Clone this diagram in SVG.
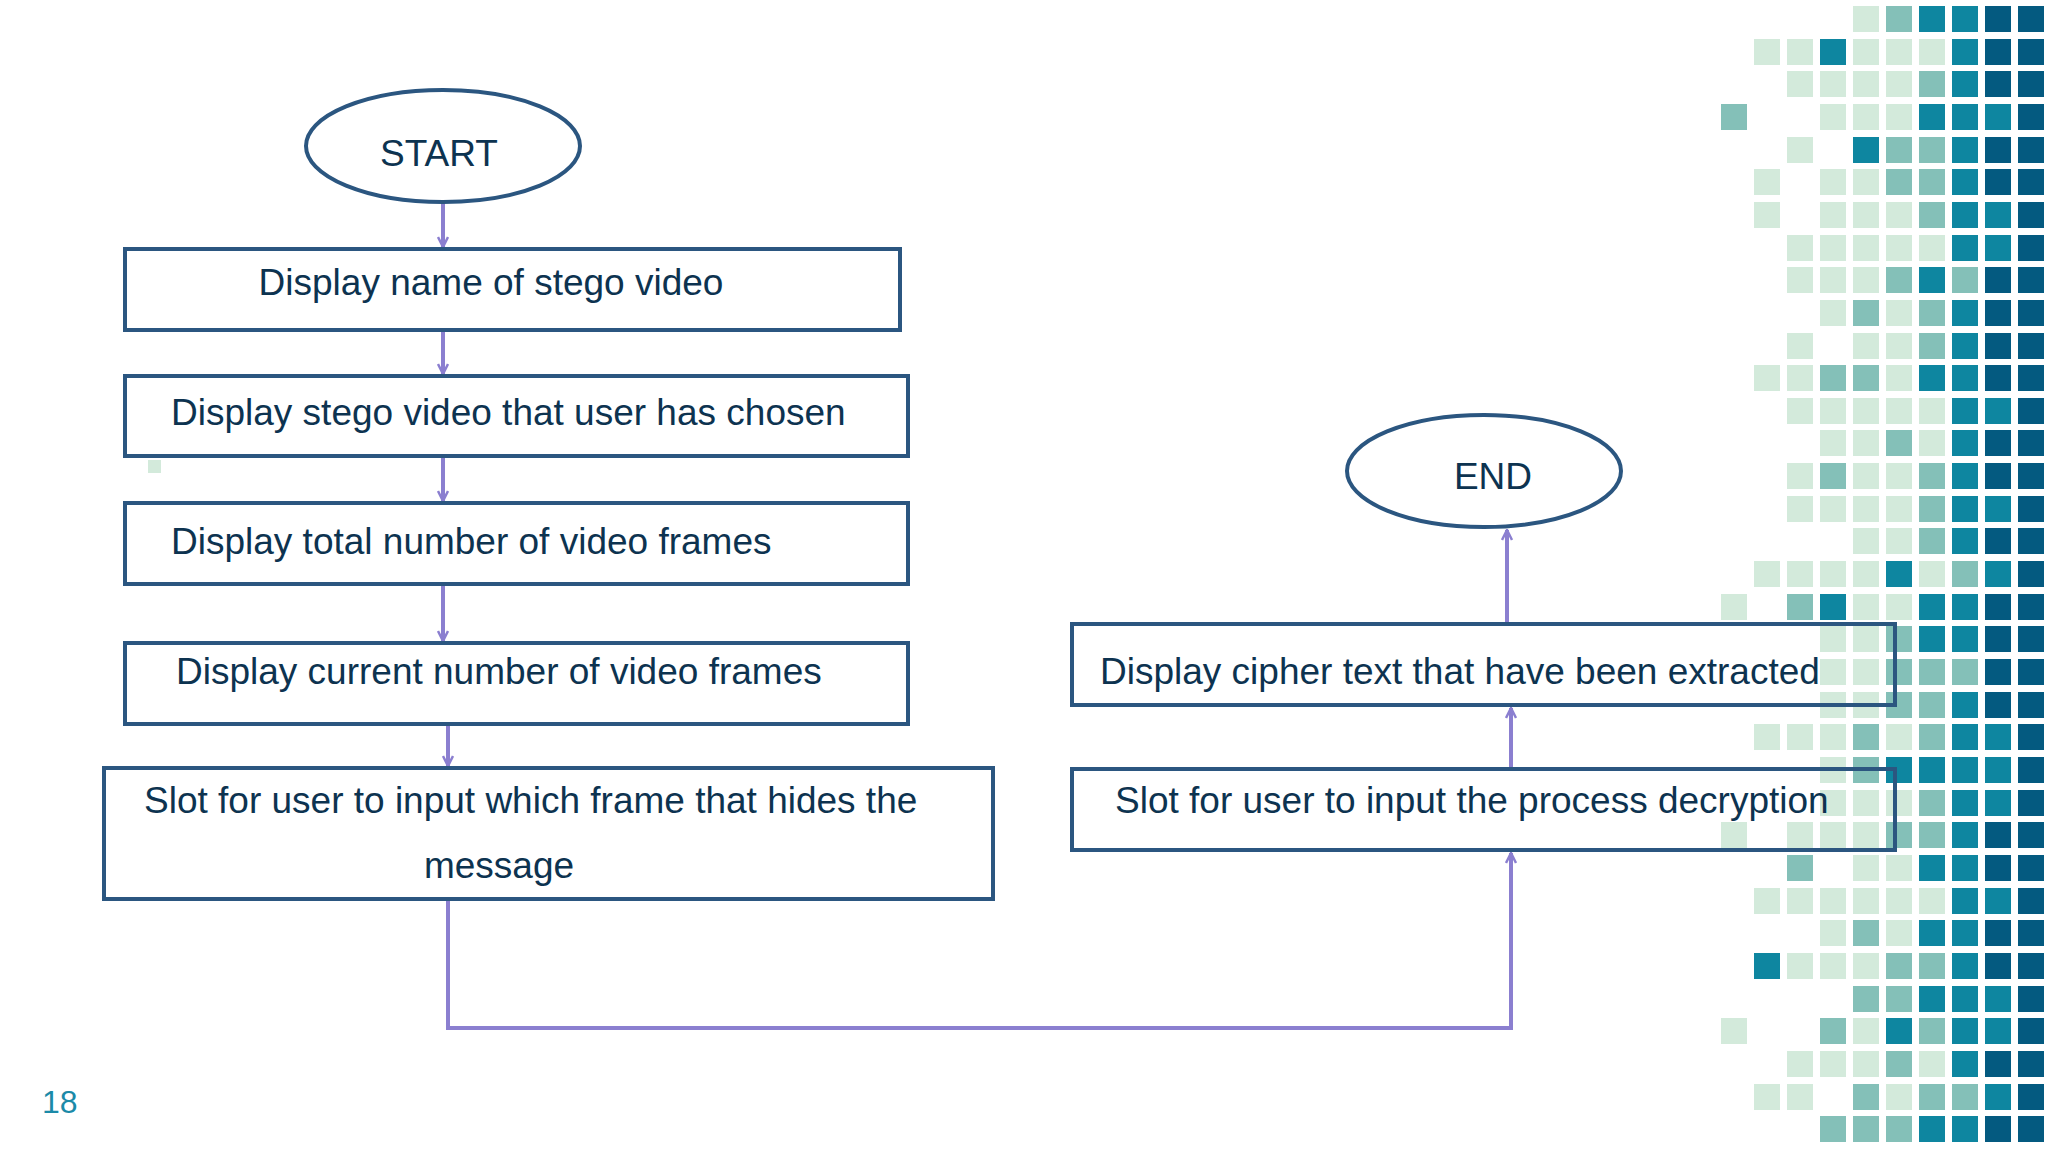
<svg xmlns="http://www.w3.org/2000/svg" width="2048" height="1152" viewBox="0 0 2048 1152">
<style>
.L{fill:#d3eadb}.M{fill:#84c0b8}.T{fill:#0e86a0}.D{fill:#045a80}
.box{fill:none;stroke:#2b5680;stroke-width:4}
.t{font-family:"Liberation Sans",Arial,sans-serif;font-size:37px;fill:#0d3350}
.c{stroke:#8b7fd0;stroke-width:4;fill:none}
</style>
<defs>
<marker id="a" viewBox="0 0 12 12" refX="11" refY="6" markerWidth="12" markerHeight="12" markerUnits="userSpaceOnUse" orient="auto"><polyline points="1,1 11,6 1,11" fill="none" stroke="#8b7fd0" stroke-width="2.5"/></marker>
</defs>
<rect width="2048" height="1152" fill="#fff"/>
<g id="grid">
<rect class="L" x="148" y="460" width="13" height="13"/>
<!-- rows generated: x=1721+33*c, y=6+32.65*r -->
<g transform="translate(1721,6)">
<!-- row0 ....LMTTDD -->
<rect class="L" x="132" y="0" width="26" height="26"/><rect class="M" x="165" y="0" width="26" height="26"/><rect class="T" x="198" y="0" width="26" height="26"/><rect class="T" x="231" y="0" width="26" height="26"/><rect class="D" x="264" y="0" width="26" height="26"/><rect class="D" x="297" y="0" width="26" height="26"/>
<!-- row1 .LLTLLLTDD -->
<rect class="L" x="33" y="33" width="26" height="26"/><rect class="L" x="66" y="33" width="26" height="26"/><rect class="T" x="99" y="33" width="26" height="26"/><rect class="L" x="132" y="33" width="26" height="26"/><rect class="L" x="165" y="33" width="26" height="26"/><rect class="L" x="198" y="33" width="26" height="26"/><rect class="T" x="231" y="33" width="26" height="26"/><rect class="D" x="264" y="33" width="26" height="26"/><rect class="D" x="297" y="33" width="26" height="26"/>
<!-- row2 ..LLLLMTDD -->
<rect class="L" x="66" y="65" width="26" height="26"/><rect class="L" x="99" y="65" width="26" height="26"/><rect class="L" x="132" y="65" width="26" height="26"/><rect class="L" x="165" y="65" width="26" height="26"/><rect class="M" x="198" y="65" width="26" height="26"/><rect class="T" x="231" y="65" width="26" height="26"/><rect class="D" x="264" y="65" width="26" height="26"/><rect class="D" x="297" y="65" width="26" height="26"/>
<!-- row3 M..LLLTTTD -->
<rect class="M" x="0" y="98" width="26" height="26"/><rect class="L" x="99" y="98" width="26" height="26"/><rect class="L" x="132" y="98" width="26" height="26"/><rect class="L" x="165" y="98" width="26" height="26"/><rect class="T" x="198" y="98" width="26" height="26"/><rect class="T" x="231" y="98" width="26" height="26"/><rect class="T" x="264" y="98" width="26" height="26"/><rect class="D" x="297" y="98" width="26" height="26"/>
<!-- row4 ..L.TMMTDD -->
<rect class="L" x="66" y="131" width="26" height="26"/><rect class="T" x="132" y="131" width="26" height="26"/><rect class="M" x="165" y="131" width="26" height="26"/><rect class="M" x="198" y="131" width="26" height="26"/><rect class="T" x="231" y="131" width="26" height="26"/><rect class="D" x="264" y="131" width="26" height="26"/><rect class="D" x="297" y="131" width="26" height="26"/>
<!-- row5 .L.LLMMTDD -->
<rect class="L" x="33" y="163" width="26" height="26"/><rect class="L" x="99" y="163" width="26" height="26"/><rect class="L" x="132" y="163" width="26" height="26"/><rect class="M" x="165" y="163" width="26" height="26"/><rect class="M" x="198" y="163" width="26" height="26"/><rect class="T" x="231" y="163" width="26" height="26"/><rect class="D" x="264" y="163" width="26" height="26"/><rect class="D" x="297" y="163" width="26" height="26"/>
<!-- row6 .L.LLLMTTD -->
<rect class="L" x="33" y="196" width="26" height="26"/><rect class="L" x="99" y="196" width="26" height="26"/><rect class="L" x="132" y="196" width="26" height="26"/><rect class="L" x="165" y="196" width="26" height="26"/><rect class="M" x="198" y="196" width="26" height="26"/><rect class="T" x="231" y="196" width="26" height="26"/><rect class="T" x="264" y="196" width="26" height="26"/><rect class="D" x="297" y="196" width="26" height="26"/>
<!-- row7 ..LLLLLTTD -->
<rect class="L" x="66" y="229" width="26" height="26"/><rect class="L" x="99" y="229" width="26" height="26"/><rect class="L" x="132" y="229" width="26" height="26"/><rect class="L" x="165" y="229" width="26" height="26"/><rect class="L" x="198" y="229" width="26" height="26"/><rect class="T" x="231" y="229" width="26" height="26"/><rect class="T" x="264" y="229" width="26" height="26"/><rect class="D" x="297" y="229" width="26" height="26"/>
<!-- row8 ..LLLMTMDD -->
<rect class="L" x="66" y="261" width="26" height="26"/><rect class="L" x="99" y="261" width="26" height="26"/><rect class="L" x="132" y="261" width="26" height="26"/><rect class="M" x="165" y="261" width="26" height="26"/><rect class="T" x="198" y="261" width="26" height="26"/><rect class="M" x="231" y="261" width="26" height="26"/><rect class="D" x="264" y="261" width="26" height="26"/><rect class="D" x="297" y="261" width="26" height="26"/>
<!-- row9 ...LMLMTDD -->
<rect class="L" x="99" y="294" width="26" height="26"/><rect class="M" x="132" y="294" width="26" height="26"/><rect class="L" x="165" y="294" width="26" height="26"/><rect class="M" x="198" y="294" width="26" height="26"/><rect class="T" x="231" y="294" width="26" height="26"/><rect class="D" x="264" y="294" width="26" height="26"/><rect class="D" x="297" y="294" width="26" height="26"/>
<!-- row10 ..L.LLMTDD -->
<rect class="L" x="66" y="327" width="26" height="26"/><rect class="L" x="132" y="327" width="26" height="26"/><rect class="L" x="165" y="327" width="26" height="26"/><rect class="M" x="198" y="327" width="26" height="26"/><rect class="T" x="231" y="327" width="26" height="26"/><rect class="D" x="264" y="327" width="26" height="26"/><rect class="D" x="297" y="327" width="26" height="26"/>
<!-- row11 .LLMMLTTDD -->
<rect class="L" x="33" y="359" width="26" height="26"/><rect class="L" x="66" y="359" width="26" height="26"/><rect class="M" x="99" y="359" width="26" height="26"/><rect class="M" x="132" y="359" width="26" height="26"/><rect class="L" x="165" y="359" width="26" height="26"/><rect class="T" x="198" y="359" width="26" height="26"/><rect class="T" x="231" y="359" width="26" height="26"/><rect class="D" x="264" y="359" width="26" height="26"/><rect class="D" x="297" y="359" width="26" height="26"/>
<!-- row12 ..LLLLLTTD -->
<rect class="L" x="66" y="392" width="26" height="26"/><rect class="L" x="99" y="392" width="26" height="26"/><rect class="L" x="132" y="392" width="26" height="26"/><rect class="L" x="165" y="392" width="26" height="26"/><rect class="L" x="198" y="392" width="26" height="26"/><rect class="T" x="231" y="392" width="26" height="26"/><rect class="T" x="264" y="392" width="26" height="26"/><rect class="D" x="297" y="392" width="26" height="26"/>
<!-- row13 ...LLMLTDD -->
<rect class="L" x="99" y="424" width="26" height="26"/><rect class="L" x="132" y="424" width="26" height="26"/><rect class="M" x="165" y="424" width="26" height="26"/><rect class="L" x="198" y="424" width="26" height="26"/><rect class="T" x="231" y="424" width="26" height="26"/><rect class="D" x="264" y="424" width="26" height="26"/><rect class="D" x="297" y="424" width="26" height="26"/>
<!-- row14 ..LMLLMTDD -->
<rect class="L" x="66" y="457" width="26" height="26"/><rect class="M" x="99" y="457" width="26" height="26"/><rect class="L" x="132" y="457" width="26" height="26"/><rect class="L" x="165" y="457" width="26" height="26"/><rect class="M" x="198" y="457" width="26" height="26"/><rect class="T" x="231" y="457" width="26" height="26"/><rect class="D" x="264" y="457" width="26" height="26"/><rect class="D" x="297" y="457" width="26" height="26"/>
<!-- row15 ..LLLLMTTD -->
<rect class="L" x="66" y="490" width="26" height="26"/><rect class="L" x="99" y="490" width="26" height="26"/><rect class="L" x="132" y="490" width="26" height="26"/><rect class="L" x="165" y="490" width="26" height="26"/><rect class="M" x="198" y="490" width="26" height="26"/><rect class="T" x="231" y="490" width="26" height="26"/><rect class="T" x="264" y="490" width="26" height="26"/><rect class="D" x="297" y="490" width="26" height="26"/>
<!-- row16 ....LLMTDD -->
<rect class="L" x="132" y="522" width="26" height="26"/><rect class="L" x="165" y="522" width="26" height="26"/><rect class="M" x="198" y="522" width="26" height="26"/><rect class="T" x="231" y="522" width="26" height="26"/><rect class="D" x="264" y="522" width="26" height="26"/><rect class="D" x="297" y="522" width="26" height="26"/>
<!-- row17 .LLLLTLMTD -->
<rect class="L" x="33" y="555" width="26" height="26"/><rect class="L" x="66" y="555" width="26" height="26"/><rect class="L" x="99" y="555" width="26" height="26"/><rect class="L" x="132" y="555" width="26" height="26"/><rect class="T" x="165" y="555" width="26" height="26"/><rect class="L" x="198" y="555" width="26" height="26"/><rect class="M" x="231" y="555" width="26" height="26"/><rect class="T" x="264" y="555" width="26" height="26"/><rect class="D" x="297" y="555" width="26" height="26"/>
<!-- row18 L.MTLLTTDD -->
<rect class="L" x="0" y="588" width="26" height="26"/><rect class="M" x="66" y="588" width="26" height="26"/><rect class="T" x="99" y="588" width="26" height="26"/><rect class="L" x="132" y="588" width="26" height="26"/><rect class="L" x="165" y="588" width="26" height="26"/><rect class="T" x="198" y="588" width="26" height="26"/><rect class="T" x="231" y="588" width="26" height="26"/><rect class="D" x="264" y="588" width="26" height="26"/><rect class="D" x="297" y="588" width="26" height="26"/>
<!-- row19 ...LLMTTDD -->
<rect class="L" x="99" y="620" width="26" height="26"/><rect class="L" x="132" y="620" width="26" height="26"/><rect class="M" x="165" y="620" width="26" height="26"/><rect class="T" x="198" y="620" width="26" height="26"/><rect class="T" x="231" y="620" width="26" height="26"/><rect class="D" x="264" y="620" width="26" height="26"/><rect class="D" x="297" y="620" width="26" height="26"/>
<!-- row20 ...LLMMMDD -->
<rect class="L" x="99" y="653" width="26" height="26"/><rect class="L" x="132" y="653" width="26" height="26"/><rect class="M" x="165" y="653" width="26" height="26"/><rect class="M" x="198" y="653" width="26" height="26"/><rect class="M" x="231" y="653" width="26" height="26"/><rect class="D" x="264" y="653" width="26" height="26"/><rect class="D" x="297" y="653" width="26" height="26"/>
<!-- row21 ...LLMMTDD -->
<rect class="L" x="99" y="686" width="26" height="26"/><rect class="L" x="132" y="686" width="26" height="26"/><rect class="M" x="165" y="686" width="26" height="26"/><rect class="M" x="198" y="686" width="26" height="26"/><rect class="T" x="231" y="686" width="26" height="26"/><rect class="D" x="264" y="686" width="26" height="26"/><rect class="D" x="297" y="686" width="26" height="26"/>
<!-- row22 .LLLMLMTTD -->
<rect class="L" x="33" y="718" width="26" height="26"/><rect class="L" x="66" y="718" width="26" height="26"/><rect class="L" x="99" y="718" width="26" height="26"/><rect class="M" x="132" y="718" width="26" height="26"/><rect class="L" x="165" y="718" width="26" height="26"/><rect class="M" x="198" y="718" width="26" height="26"/><rect class="T" x="231" y="718" width="26" height="26"/><rect class="T" x="264" y="718" width="26" height="26"/><rect class="D" x="297" y="718" width="26" height="26"/>
<!-- row23 ...LMTTTTD -->
<rect class="L" x="99" y="751" width="26" height="26"/><rect class="M" x="132" y="751" width="26" height="26"/><rect class="T" x="165" y="751" width="26" height="26"/><rect class="T" x="198" y="751" width="26" height="26"/><rect class="T" x="231" y="751" width="26" height="26"/><rect class="T" x="264" y="751" width="26" height="26"/><rect class="D" x="297" y="751" width="26" height="26"/>
<!-- row24 ...LLLMTTD -->
<rect class="L" x="99" y="784" width="26" height="26"/><rect class="L" x="132" y="784" width="26" height="26"/><rect class="L" x="165" y="784" width="26" height="26"/><rect class="M" x="198" y="784" width="26" height="26"/><rect class="T" x="231" y="784" width="26" height="26"/><rect class="T" x="264" y="784" width="26" height="26"/><rect class="D" x="297" y="784" width="26" height="26"/>
<!-- row25 L.LLLMMTDD -->
<rect class="L" x="0" y="816" width="26" height="26"/><rect class="L" x="66" y="816" width="26" height="26"/><rect class="L" x="99" y="816" width="26" height="26"/><rect class="L" x="132" y="816" width="26" height="26"/><rect class="M" x="165" y="816" width="26" height="26"/><rect class="M" x="198" y="816" width="26" height="26"/><rect class="T" x="231" y="816" width="26" height="26"/><rect class="D" x="264" y="816" width="26" height="26"/><rect class="D" x="297" y="816" width="26" height="26"/>
<!-- row26 ..M.LLTTDD -->
<rect class="M" x="66" y="849" width="26" height="26"/><rect class="L" x="132" y="849" width="26" height="26"/><rect class="L" x="165" y="849" width="26" height="26"/><rect class="T" x="198" y="849" width="26" height="26"/><rect class="T" x="231" y="849" width="26" height="26"/><rect class="D" x="264" y="849" width="26" height="26"/><rect class="D" x="297" y="849" width="26" height="26"/>
<!-- row27 .LLLLLLTTD -->
<rect class="L" x="33" y="882" width="26" height="26"/><rect class="L" x="66" y="882" width="26" height="26"/><rect class="L" x="99" y="882" width="26" height="26"/><rect class="L" x="132" y="882" width="26" height="26"/><rect class="L" x="165" y="882" width="26" height="26"/><rect class="L" x="198" y="882" width="26" height="26"/><rect class="T" x="231" y="882" width="26" height="26"/><rect class="T" x="264" y="882" width="26" height="26"/><rect class="D" x="297" y="882" width="26" height="26"/>
<!-- row28 ...LMLTTDD -->
<rect class="L" x="99" y="914" width="26" height="26"/><rect class="M" x="132" y="914" width="26" height="26"/><rect class="L" x="165" y="914" width="26" height="26"/><rect class="T" x="198" y="914" width="26" height="26"/><rect class="T" x="231" y="914" width="26" height="26"/><rect class="D" x="264" y="914" width="26" height="26"/><rect class="D" x="297" y="914" width="26" height="26"/>
<!-- row29 .TLLLMMTDD -->
<rect class="T" x="33" y="947" width="26" height="26"/><rect class="L" x="66" y="947" width="26" height="26"/><rect class="L" x="99" y="947" width="26" height="26"/><rect class="L" x="132" y="947" width="26" height="26"/><rect class="M" x="165" y="947" width="26" height="26"/><rect class="M" x="198" y="947" width="26" height="26"/><rect class="T" x="231" y="947" width="26" height="26"/><rect class="D" x="264" y="947" width="26" height="26"/><rect class="D" x="297" y="947" width="26" height="26"/>
<!-- row30 ....MMTTTD -->
<rect class="M" x="132" y="980" width="26" height="26"/><rect class="M" x="165" y="980" width="26" height="26"/><rect class="T" x="198" y="980" width="26" height="26"/><rect class="T" x="231" y="980" width="26" height="26"/><rect class="T" x="264" y="980" width="26" height="26"/><rect class="D" x="297" y="980" width="26" height="26"/>
<!-- row31 L..MLTMTTD -->
<rect class="L" x="0" y="1012" width="26" height="26"/><rect class="M" x="99" y="1012" width="26" height="26"/><rect class="L" x="132" y="1012" width="26" height="26"/><rect class="T" x="165" y="1012" width="26" height="26"/><rect class="M" x="198" y="1012" width="26" height="26"/><rect class="T" x="231" y="1012" width="26" height="26"/><rect class="T" x="264" y="1012" width="26" height="26"/><rect class="D" x="297" y="1012" width="26" height="26"/>
<!-- row32 ..LLLMLTDD -->
<rect class="L" x="66" y="1045" width="26" height="26"/><rect class="L" x="99" y="1045" width="26" height="26"/><rect class="L" x="132" y="1045" width="26" height="26"/><rect class="M" x="165" y="1045" width="26" height="26"/><rect class="L" x="198" y="1045" width="26" height="26"/><rect class="T" x="231" y="1045" width="26" height="26"/><rect class="D" x="264" y="1045" width="26" height="26"/><rect class="D" x="297" y="1045" width="26" height="26"/>
<!-- row33 .LL.MLMMTD -->
<rect class="L" x="33" y="1078" width="26" height="26"/><rect class="L" x="66" y="1078" width="26" height="26"/><rect class="M" x="132" y="1078" width="26" height="26"/><rect class="L" x="165" y="1078" width="26" height="26"/><rect class="M" x="198" y="1078" width="26" height="26"/><rect class="M" x="231" y="1078" width="26" height="26"/><rect class="T" x="264" y="1078" width="26" height="26"/><rect class="D" x="297" y="1078" width="26" height="26"/>
<!-- row34 ...MMMTTDD -->
<rect class="M" x="99" y="1110" width="26" height="26"/><rect class="M" x="132" y="1110" width="26" height="26"/><rect class="M" x="165" y="1110" width="26" height="26"/><rect class="T" x="198" y="1110" width="26" height="26"/><rect class="T" x="231" y="1110" width="26" height="26"/><rect class="D" x="264" y="1110" width="26" height="26"/><rect class="D" x="297" y="1110" width="26" height="26"/>
</g>
</g>
<g id="connectors">
<line class="c" x1="443" y1="203" x2="443" y2="247" marker-end="url(#a)"/>
<line class="c" x1="443" y1="332" x2="443" y2="374" marker-end="url(#a)"/>
<line class="c" x1="443" y1="458" x2="443" y2="501" marker-end="url(#a)"/>
<line class="c" x1="443" y1="586" x2="443" y2="641" marker-end="url(#a)"/>
<line class="c" x1="448" y1="726" x2="448" y2="766" marker-end="url(#a)"/>
<polyline class="c" points="448,901 448,1028 1511,1028 1511,853" marker-end="url(#a)"/>
<line class="c" x1="1511" y1="767" x2="1511" y2="708" marker-end="url(#a)"/>
<line class="c" x1="1507" y1="622" x2="1507" y2="530" marker-end="url(#a)"/>
</g>
<g id="start"><ellipse class="box" cx="443" cy="146" rx="137" ry="56"/><text class="t" x="439" y="166" text-anchor="middle" font-size="38">START</text></g>
<g id="n1"><rect class="box" x="125" y="249" width="775" height="81"/><text class="t" x="491" y="295" text-anchor="middle">Display name of stego video</text></g>
<g id="n2"><rect class="box" x="125" y="376" width="783" height="80"/><text class="t" x="171" y="425">Display stego video that user has chosen</text></g>
<g id="n3"><rect class="box" x="125" y="503" width="783" height="81"/><text class="t" x="171" y="554">Display total number of video frames</text></g>
<g id="n4"><rect class="box" x="125" y="643" width="783" height="81"/><text class="t" x="176" y="684">Display current number of video frames</text></g>
<g id="n5"><rect class="box" x="104" y="768" width="889" height="131"/><text class="t" x="144" y="813">Slot for user to input which frame that hides the</text><text class="t" x="499" y="878" text-anchor="middle">message</text></g>
<g id="n6"><rect class="box" x="1072" y="624" width="823" height="81"/><text class="t" x="1100" y="684">Display cipher text that have been extracted</text></g>
<g id="n7"><rect class="box" x="1072" y="769" width="823" height="81"/><text class="t" x="1115" y="813">Slot for user to input the process decryption</text></g>
<g id="end"><ellipse class="box" cx="1484" cy="471" rx="137" ry="56"/><text class="t" x="1493" y="489" text-anchor="middle" font-size="38">END</text></g>
<text x="42" y="1113" font-family="Liberation Sans,Arial,sans-serif" font-size="32" fill="#1b8aa8">18</text>
</svg>
